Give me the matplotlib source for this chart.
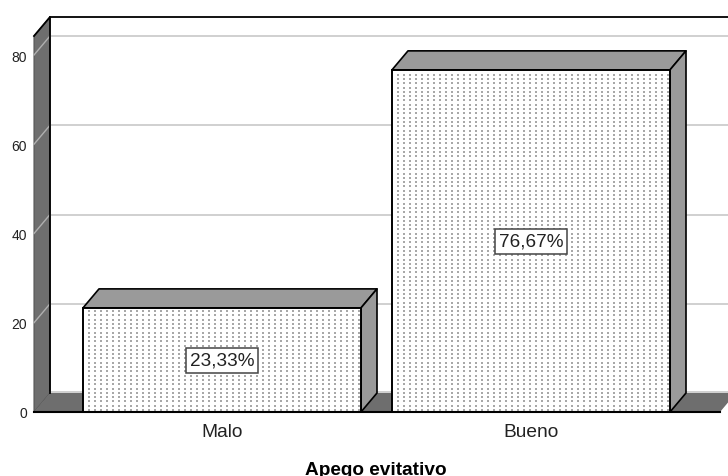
import numpy as np
import matplotlib
matplotlib.use("Agg")
import matplotlib.pyplot as plt
from matplotlib.patches import Polygon, Rectangle

plt.rcParams['font.family'] = ['Liberation Sans', 'DejaVu Sans']

categories = ['Malo', 'Bueno']
values = [23.33, 76.67]
labels = ['23,33%', '76,67%']
yticks = [0, 20, 40, 60, 80]
xlabel = 'Apego evitativo'

W, H = 728, 477
fig = plt.figure(figsize=(W / 100, H / 100), dpi=100)
# front plane of the 3d box, figure pixels 34..720 / 413..37
ax = fig.add_axes([34 / W, 1 - 413 / H, (720 - 34) / W, (413 - 37) / H])
ax.set_xlim((34 - 222) / 309, (720 - 222) / 309)
ax.set_ylim(0, 376 / 4.4625)
ax.patch.set_visible(False)

# depth of the box, in data units
dx = 16 / 309
dy = 19 / 4.4625
x0, x1 = ax.get_xlim()
y0, y1 = ax.get_ylim()
barw = 278 / 309
DARK = '#6e6e6e'
SIDE = '#9a9a9a'


def poly(pts, fc, ec='k', lw=1.2, z=2):
    ax.add_patch(Polygon(pts, closed=True, fc=fc, ec=ec, lw=lw, zorder=z,
                         clip_on=False, joinstyle='round'))


# left wall and floor
poly([(x0, y0), (x0 + dx, y0 + dy), (x0 + dx, y1 + dy), (x0, y1)], DARK, ec='#555555', lw=0.8, z=1)
poly([(x0, y0), (x0 + dx, y0 + dy), (x1 + dx, y0 + dy), (x1, y0)], DARK, ec='none', z=1)
ax.plot([x0 + dx, x1 + dx], [y0 + dy + 0.15] * 2, color='#c8c8c8', lw=1.2, zorder=1, clip_on=False)

# back wall border and grid
ax.plot([x0, x0 + dx, x0 + dx], [y1, y1 + dy, y0 + dy], color='k', lw=1.3, zorder=1.5, clip_on=False)
ax.plot([x0 + dx, x1 + dx], [y1 + dy] * 2, color='k', lw=1.3, zorder=1.5, clip_on=False)
for t in yticks[1:]:
    ax.plot([x0 + dx, x1 + dx], [t + dy] * 2, color='#c8c8c8', lw=1.2, zorder=1.2, clip_on=False)
    ax.plot([x0, x0 + dx], [t, t + dy], color='#b0b0b0', lw=1, zorder=1.2, clip_on=False)

# bars
for i, v in enumerate(values):
    l, r = i - barw / 2, i + barw / 2
    poly([(l, v), (l + dx, v + dy), (r + dx, v + dy), (r, v)], SIDE, z=3)
    poly([(r, 0), (r + dx, dy), (r + dx, v + dy), (r, v)], SIDE, z=3)
    ax.add_patch(Rectangle((l, 0), barw, v, fc='white', ec='none', zorder=3))
    # dot texture, 6 px columns and 4.3 px rows
    xs = np.arange(l + 6 / 309, r - 2 / 309, 6 / 309)
    ys = np.arange(2 / 4.4625, v - 1 / 4.4625, 4.3 / 4.4625)
    gx, gy = np.meshgrid(xs, ys)
    ax.scatter(gx.ravel(), gy.ravel(), s=1.5, marker='s', color='#a8a8a8', lw=0, zorder=3.2)
    ax.add_patch(Rectangle((l, 0), barw, v, fc='none', ec='k', lw=1.4, zorder=3.4))
    ax.text(i, v / 2 - 0.1, labels[i], ha='center', va='center', fontsize=13.7, color='#222222', zorder=5,
            bbox=dict(boxstyle='square,pad=0.22', fc='white', ec='#444444', lw=1.1))

ax.plot([x0, x1], [0, 0], color='k', lw=1.5, zorder=3.5, clip_on=False)

for s in ax.spines.values():
    s.set_visible(False)
ax.set_xticks(range(len(categories)))
ax.set_xticklabels(categories, fontsize=13.8, color='#222222')
ax.set_yticks(yticks)
ax.set_yticklabels(yticks, fontsize=10, color='#222222')
ax.tick_params(length=0)
ax.tick_params(axis='x', pad=8)
ax.tick_params(axis='y', pad=5)
fig.text(376 / W, 1 - 471 / H, xlabel, ha='center', va='center', fontsize=13.7, fontweight='bold')

fig.savefig('out.png', dpi=100)
